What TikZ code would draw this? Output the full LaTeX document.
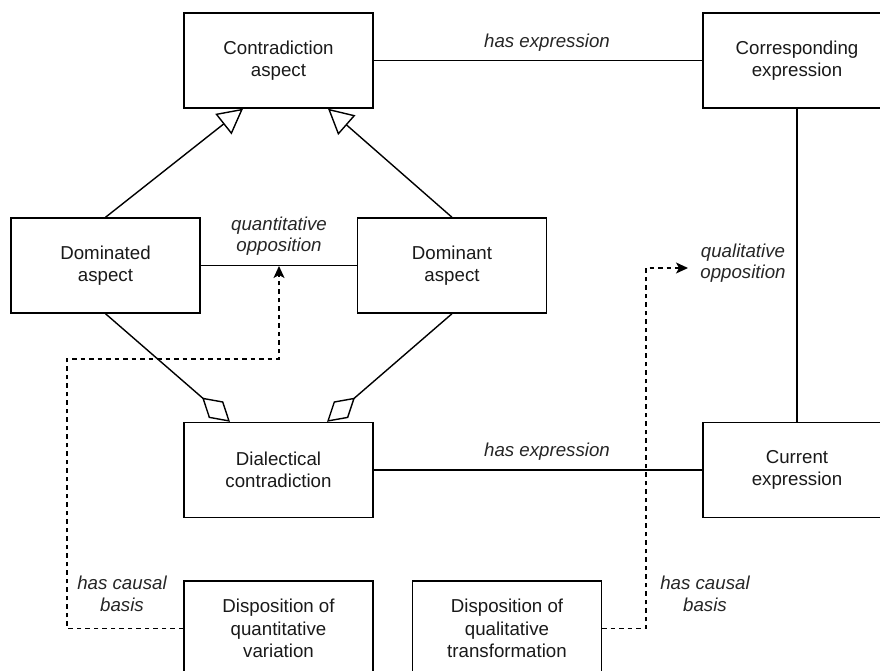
\documentclass[tikz,border=0pt]{standalone}
\usepackage{fontspec}
\setmainfont{Liberation Sans}
\usetikzlibrary{arrows.meta}
\begin{document}
\begin{tikzpicture}[x=1pt,y=-1pt,
  box/.style={draw, line width=1.4pt, minimum width=189pt, minimum height=95pt, align=center, inner sep=0pt,
    font=\fontsize{18.7}{22.4}\selectfont, text=black!90},
  lbl/.style={align=center, inner sep=0pt, font=\fontsize{18.7}{21.5}\selectfont\itshape, text=black!85},
  conn/.style={line width=1.4pt},
  dashline/.style={line width=1.4pt, dash pattern=on 4.5pt off 4pt},
  gen/.style={conn, -{Triangle[open, length=25pt, width=26pt]}},
  agg/.style={conn, -{Diamond[open, length=37pt, width=22pt]}},
  dep/.style={dashline, -{Stealth[length=12pt, width=11pt, inset=3pt]}}
]
\useasboundingbox (0,0) rectangle (880,670);
\clip (0,0) rectangle (880,670);

\node[box] (ca)  at (278.5,60.5) {Contradiction\\aspect};
\node[box, minimum width=188pt] (ce) at (797,60.5) {Corresponding\\expression};
\node[box] (dom) at (105.5,265.5) {Dominated\\aspect};
\node[box] (dnt) at (452,265.5) {Dominant\\aspect};
\node[box] (dc)  at (278.5,470) {Dialectical\\contradiction};
\node[box, minimum width=188pt] (cur) at (797,470) {Current\\expression};
\node[box] (dqv) at (278.5,628.5) {Disposition of\\quantitative\\variation};
\node[box] (dqt) at (507,628.5) {Disposition of\\qualitative\\transformation};

% has expression (top)
\draw[conn] (ca.east) -- (ce.west);
\node[lbl] (l1) at (547,43) {has expression};
% has expression (bottom)
\draw[conn] (dc.east) -- (cur.west);
\node[lbl] (l2) at (547,452) {has expression};
% vertical
\draw[conn] (ce.south) -- (cur.north);

% generalization
\draw[gen] (dom.north) -- ([xshift=-35.5pt]ca.south);
\draw[gen] (dnt.north) -- ([xshift=49.5pt]ca.south);

% aggregation
\draw[agg] (dom.south) -- ([xshift=-48.5pt]dc.north);
\draw[agg] (dnt.south) -- ([xshift=48.5pt]dc.north);

% quantitative opposition
\draw[conn] (dom.east) -- (dnt.west);
\node[lbl] (l3) at (279,236) {quantitative\\opposition};
\coordinate (qo) at (279,266);

% qualitative opposition label
\node[lbl] (l4) at (743,263) {qualitative\\opposition};
\coordinate (qlo) at (688,268);

% dashed causal basis
\draw[dep] (dqv.west) -- (67,628.5) -- (67,359) -- (279,359) -- (qo);
\node[lbl] (l5) at (122,594) {has causal\\basis};
\draw[dep] (dqt.east) -- (646,628.5) -- (646,268) -- (qlo);
\node[lbl] (l6) at (705,594) {has causal\\basis};
\end{tikzpicture}
\end{document}
